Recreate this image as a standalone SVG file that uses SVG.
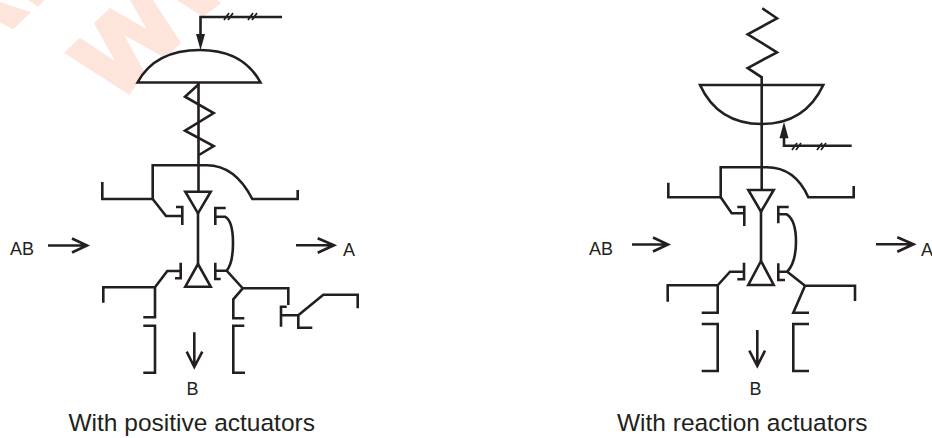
<svg xmlns="http://www.w3.org/2000/svg" width="932" height="438" viewBox="0 0 932 438">
<style>
.l{fill:none;stroke:#231f20;stroke-width:2.6;stroke-linejoin:miter;stroke-linecap:butt}
.t{stroke-width:1.8}
.h{fill:#231f20;stroke:none}
.w{fill:#fde5dc;stroke:none}
text{font-family:"Liberation Sans",Arial,sans-serif;fill:#231f20}
.s{font-size:18px}
.c{font-size:24.5px}
</style>
<rect width="932" height="438" fill="#fff"/>
<g id="watermark">
<path class="w" d="M64 52.7L80 37.7L115 61L94 23.3L110 8L146.7 29L130 0H153L181 42.7L165.7 58.3L124 35L145 72.7L129.3 95Z"/>
<path class="w" d="M176.7 0L203 16.7L221 3.3L216.7 0Z"/>
<path class="w" d="M0 2L31 12.3L13.3 29.3L0 22.7Z"/>
<path class="w" d="M28 0L38 6.7L45 0Z"/>
</g>
<g id="positive-valve">
<g id="positive-actuator">
<path class="l" d="M137.5 82.5H260.5Q243 50 200 50Q155 50 137.5 82.5Z"/>
<path class="l" d="M282 17H200.5V36"/>
<path class="h" d="M196 34H205L200.5 50Z"/>
<path class="l t" d="M224 20L229 13M228 20L233 13M248 20L253 13M252 20L257 13"/>
</g>
<g id="positive-spring"><path class="l" d="M199 84L185 96.7L213.7 113L185 130.7L213.7 146L199 155"/></g>
<g id="positive-body">
<path class="l" d="M102.3 182V199H152.7V165.3H206.7Q235 165.3 252.3 199H297.7V190"/>
<path class="l" d="M152.7 199L166 216H182.3M176 207H182.3V225"/>
<path class="l" d="M185.3 191.7H210.7L198 213.3Z"/>
<path class="l" d="M198.5 83V191.7M198 213V264"/>
<path class="l" d="M198 264L185.3 286.7H210.7Z"/>
<path class="l" d="M225.7 208H215.3V225M215.3 216.7H225Q233 221 233 243Q233 263 226.7 270.7"/>
<path class="l" d="M215.3 262.7V279H220.7M215.3 270.7H226.7L242.7 288.3H288.3V305M242.7 288.3L233.3 299.3V318.3H244.3"/>
<path class="l" d="M244.3 325.7H233.3V372.7H245"/>
<path class="l" d="M175 278.3H180.7V262.7M180.7 271H167.3L155 287.3H103.3V302.7M155 287.3V317.3H143.3"/>
<path class="l" d="M143.3 325.7H155V372.7H143.3"/>
<path class="l" d="M286.7 306.7H281V326.7M281 315.3H298.3L323.3 294.7H357.7V308.3M298.3 315.3V327.7H312.3"/>
</g>
<g id="positive-arrows">
<path class="l" d="M48 245.5H87M72 238.5L87 245.5L72 252.5" stroke-width="3"/>
<path class="l" d="M296 245.3H334M317.7 238.3L334 245.3L317.7 252.7"/>
<path class="l" d="M194.3 332.3V367M186.7 351.7L194.3 367L202.3 351.7"/>
</g>
<text class="s" x="10" y="255">AB</text>
<text class="s" x="343" y="256">A</text>
<text class="s" x="186.5" y="394.5">B</text>
<text class="c" x="68.5" y="430.5">With positive actuators</text>
</g>
<g id="reaction-valve">
<g id="reaction-actuator">
<path class="l" d="M700 85H823.3Q805 124 761.7 124Q718 124 700 85Z"/>
<path class="l" d="M851.7 145.7H784V136"/>
<path class="h" d="M779.5 138.3H788.5L784 121.7Z"/>
<path class="l t" d="M792 150L797 143M796 150L801 143M817 150L822 143M821 150L826 143"/>
</g>
<g id="reaction-spring"><path class="l" d="M762.3 8.3L777 18.3L747.7 34.3L777 52.3L747.7 68L761.7 77.3V85"/></g>
<g id="reaction-body">
<path class="l" d="M668.3 182.7V197.3H720.7V167.3H766.7Q795 167.3 808.3 197.3H853.7V186"/>
<path class="l" d="M720.7 197.3L731.7 213.3H744.3M737.3 207H744.3V226"/>
<path class="l" d="M748.3 190H773.7L761 211.7Z"/>
<path class="l" d="M761.7 85V190M761 211V261"/>
<path class="l" d="M761 261L748.3 285H773.7Z"/>
<path class="l" d="M788.7 207H778.3V223.3M778.3 214.3H786.7Q796 220 796 241.7Q796 262 787.3 271.7"/>
<path class="l" d="M778.3 263.3V280H785M778.3 271.7H787.3L805 285.7H855V301M805 285.7L793.3 312.7H809"/>
<path class="l" d="M809 324H793.3V371H809"/>
<path class="l" d="M737.3 279.3H744V262.7M744 271.7H730L717.7 285.3H667.7V301.7M717.7 285.3V312.7H701.7"/>
<path class="l" d="M701.7 324H717.7V371H701.7"/>
</g>
<g id="reaction-arrows">
<path class="l" d="M632 244.5H668M653 237.5L668 244.5L653 251.5"/>
<path class="l" d="M876 244.3H913.5M897.3 237.3L913.5 244.3L897.3 251.7"/>
<path class="l" d="M757.3 330V366M749.3 350.7L757.3 366L765 350.7"/>
</g>
<text class="s" x="589" y="255">AB</text>
<text class="s" x="921" y="256">A</text>
<text class="s" x="749.5" y="394.5">B</text>
<text class="c" x="617" y="430.5">With reaction actuators</text>
</g>
</svg>
